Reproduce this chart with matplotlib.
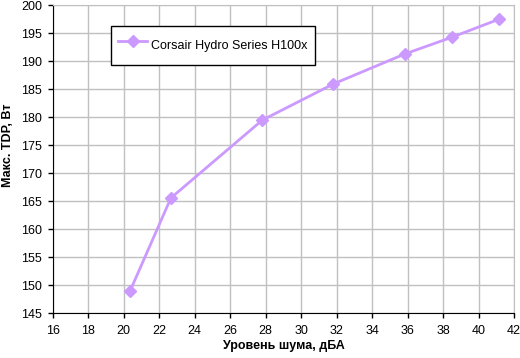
import matplotlib
matplotlib.use("Agg")
import matplotlib.pyplot as plt

plt.rcParams['font.family'] = ['Liberation Sans', 'DejaVu Sans']

# noise level (dBA) vs max TDP (W)
noise = [20.36, 22.66, 27.81, 31.81, 35.83, 38.49, 41.13]
tdp = [149.0, 165.6, 179.5, 185.95, 191.3, 194.3, 197.5]
series_name = "Corsair Hydro Series H100x"
xticks = list(range(16, 43, 2))
yticks = list(range(145, 201, 5))

fig = plt.figure(figsize=(5.2, 3.58), dpi=100)
ax = fig.add_axes([0.1015, 0.125, 0.887, 0.86])

ax.plot(noise, tdp, color='#CC99FF', lw=2, marker='D', ms=6,
        label=series_name, zorder=3)

ax.set_xlim(16, 42)
ax.set_ylim(145, 200)
ax.set_xticks(xticks)
ax.set_yticks(yticks)
ax.grid(True, color='#C0C0C0', lw=1)
ax.set_axisbelow(True)

for s in ['top', 'right']:
    ax.spines[s].set_color('#C0C0C0')
for s in ['left', 'bottom']:
    ax.spines[s].set_color('black')
ax.tick_params(direction='out', length=3.6, width=1, labelsize=9, colors='black')
ax.tick_params(axis='x', pad=5)
ax.tick_params(axis='y', pad=4)

ax.set_xlabel('Уровень шума, дБА', fontsize=9, fontweight='bold', labelpad=2)
ax.set_ylabel('Макс. TDP, Вт', fontsize=9, fontweight='bold')
ax.yaxis.set_label_coords(-0.083, 0.546)

leg = ax.legend(loc='upper left', bbox_to_anchor=(0.126, 0.933), fontsize=9,
                fancybox=False, framealpha=1, edgecolor='black',
                borderpad=0.6, handlelength=2.3, handleheight=2.6,
                handletextpad=0.3, borderaxespad=0)
leg.get_frame().set_linewidth(1)

fig.savefig('out.png', dpi=100)
